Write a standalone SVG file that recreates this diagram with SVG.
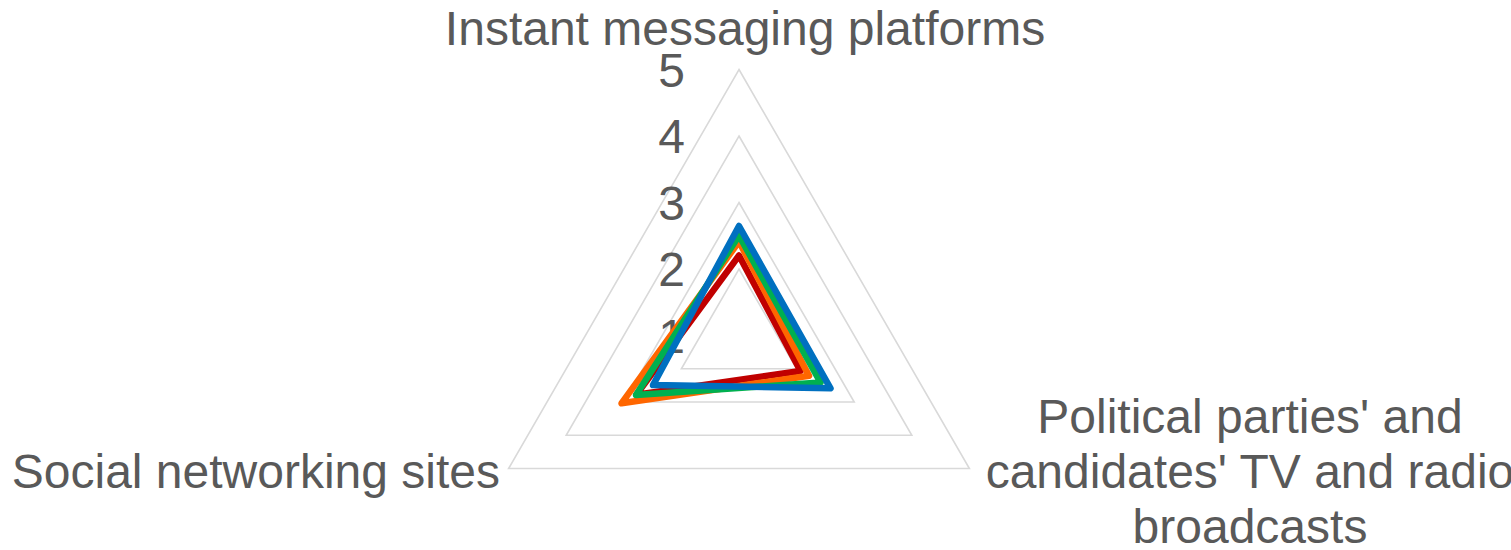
<svg xmlns="http://www.w3.org/2000/svg" width="1511" height="550" viewBox="0 0 1511 550">
<style>
.grid{fill:none;stroke:#D9D9D9;stroke-width:1.6}
.s{fill:none;stroke-width:6.5;stroke-linejoin:round}
text{font-family:"Liberation Sans",Arial,sans-serif;font-size:48px;fill:#595959}
.tick{text-anchor:end}
</style>
<rect width="1511" height="550" fill="#FFFFFF"/>
<g id="grid">
<polygon class="grid" points="739,269 796.6,368.75 681.4,368.75"/>
<polygon class="grid" points="739,202.5 854.2,402 623.8,402"/>
<polygon class="grid" points="739,136 911.8,435.25 566.2,435.25"/>
<polygon class="grid" points="739,69.5 969.4,468.5 508.6,468.5"/>
</g>
<g id="ticks">
<text class="tick" x="685" y="352.5">1</text>
<text class="tick" x="685" y="286">2</text>
<text class="tick" x="685" y="219.5">3</text>
<text class="tick" x="685" y="153">4</text>
<text class="tick" x="685" y="86.5">5</text>
</g>
<g id="series">
<polygon class="s" stroke="#C00000" points="739,255.5 800.5,371 636.5,394.6"/>
<polygon class="s" stroke="#FF6600" points="739,241.5 809,375.8 621.5,403.3"/>
<polygon class="s" stroke="#00B050" points="739,235.5 820.5,382.5 636,395"/>
<polygon class="s" stroke="#0070C0" points="739,226 830.5,388.3 653,385.1"/>
</g>
<g id="label-top"><text x="745" y="45" text-anchor="middle">Instant messaging platforms</text></g>
<g id="label-left"><text x="500" y="488" text-anchor="end">Social networking sites</text></g>
<g id="label-right">
<text x="1250" y="433" text-anchor="middle">Political parties' and</text>
<text x="1250" y="488" text-anchor="middle">candidates' TV and radio</text>
<text x="1250" y="543" text-anchor="middle">broadcasts</text>
</g>
</svg>
